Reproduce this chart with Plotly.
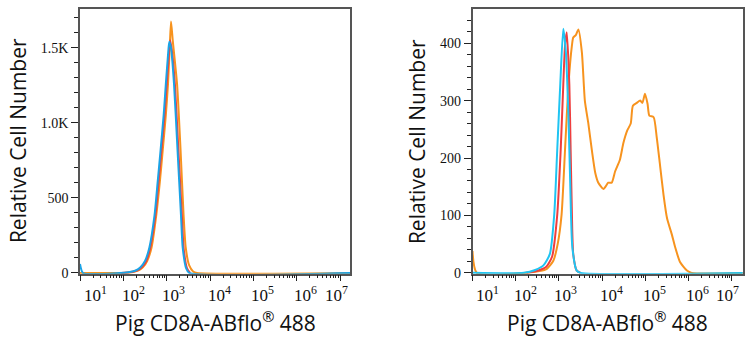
import plotly.graph_objects as go

# ---- Left panel: log10(fluorescence) vs cell count ----
left_blue_x = [1.00, 1.07, 1.92, 2.11, 2.27, 2.39, 2.50, 2.60, 2.72, 2.79, 2.86, 2.93, 2.98, 3.03, 3.06, 3.10, 3.17, 3.25, 3.33, 3.37, 3.45, 3.52, 7.30]
left_blue_y = [60, 0, 0, 5, 15, 37, 80, 168, 385, 600, 821, 1050, 1257, 1450, 1540, 1500, 1257, 821, 385, 168, 30, 0, 0]

left_red_x = [1.95, 2.14, 2.30, 2.42, 2.53, 2.62, 2.74, 2.81, 2.88, 2.95, 3.00, 3.05, 3.08, 3.12, 3.19, 3.27, 3.35, 3.39, 3.47, 3.54]
left_red_y = [0, 5, 15, 37, 80, 168, 385, 600, 821, 1050, 1257, 1450, 1550, 1480, 1257, 821, 385, 168, 30, 0]

left_orange_x = [1.00, 1.99, 2.20, 2.34, 2.45, 2.55, 2.65, 2.76, 2.84, 2.91, 2.98, 3.03, 3.07, 3.10, 3.14, 3.24, 3.32, 3.39, 3.44, 3.52, 3.61, 3.70, 7.30]
left_orange_y = [0, 0, 5, 15, 37, 80, 168, 385, 600, 821, 1050, 1257, 1500, 1675, 1550, 1257, 821, 385, 168, 50, 10, 0, 0]

# ---- Right panel ----
right_blue_x = [1.00, 2.19, 2.45, 2.64, 2.79, 2.89, 2.96, 3.03, 3.10, 3.16, 3.22, 3.26, 3.31, 3.41, 3.50, 7.30]
right_blue_y = [0, 0, 5, 13, 33, 101, 214, 328, 425, 384, 271, 157, 44, 4, 0, 0]

right_red_x = [2.25, 2.52, 2.70, 2.84, 2.96, 3.04, 3.10, 3.14, 3.18, 3.24, 3.27, 3.30, 3.33, 3.41, 3.50]
right_red_y = [0, 4, 10, 28, 101, 214, 328, 396, 419, 328, 214, 101, 33, 4, 0]

right_orange_x = [1.00, 1.10, 2.26, 2.55, 2.72, 2.87, 2.97, 3.06, 3.14, 3.22, 3.30, 3.33, 3.39, 3.45, 3.53, 3.60,
                  3.68, 3.76, 3.84, 3.91, 4.03, 4.14, 4.22, 4.30, 4.41, 4.49, 4.58, 4.66, 4.71, 4.80, 4.88,
                  4.93, 4.99, 5.05, 5.09, 5.19, 5.26, 5.34, 5.42, 5.50, 5.61, 5.69, 5.80, 5.96, 6.07, 7.30]
right_orange_y = [38, 0, 0, 3, 7, 21, 50, 101, 214, 328, 396, 410, 414, 424, 384, 299,
                  260, 214, 174, 157, 146, 157, 157, 177, 197, 226, 248, 260, 291, 296, 300,
                  296, 312, 294, 274, 271, 237, 186, 135, 95, 67, 44, 19, 4, 0, 0]

ORANGE = "#f7931e"
RED = "#ef3e3e"
BLUE_L = "#1ba3e6"
BLUE_R = "#1fc4f2"

decades = [1, 2, 3, 4, 5, 6, 7]
decade_label_shift = [15, 10, 7, 9, 9, 9, -4]
minor_vals = [k * 10 ** d for d in range(1, 8) for k in range(2, 10)]

left_yticks = [0, 500, 1000, 1500]
left_yticktext = ["0", "500", "1.0K", "1.5K"]
right_yticks = [0, 100, 200, 300, 400]
right_yticktext = ["0", "100", "200", "300", "400"]

x_title = "Pig CD8A-ABflo<sup>®</sup> 488"
y_title = "Relative Cell Number"

SERIF = "'Liberation Serif', 'DejaVu Serif', serif"
SANS = "'Open Sans', 'Noto Sans', sans-serif"

fig = go.Figure()


def add_curve(xs, ys, color, xa, ya):
    fig.add_trace(go.Scatter(
        x=[10 ** v for v in xs], y=ys, mode="lines",
        line=dict(color=color, width=2, shape="spline", smoothing=0.6),
        xaxis=xa, yaxis=ya, showlegend=False, hoverinfo="skip"))


add_curve(left_orange_x, left_orange_y, ORANGE, "x", "y")
add_curve(left_red_x, left_red_y, RED, "x", "y")
add_curve(left_blue_x, left_blue_y, BLUE_L, "x", "y")

add_curve(right_orange_x, right_orange_y, ORANGE, "x2", "y2")
add_curve(right_red_x, right_red_y, RED, "x2", "y2")
add_curve(right_blue_x, right_blue_y, BLUE_R, "x2", "y2")

W, H = 754, 350
y_dom = [1 - 279.3 / H, 1 - 9.5 / H]

xaxis_common = dict(
    type="log", showgrid=False, zeroline=False,
    showline=True, linecolor="#555555", linewidth=1.5, mirror=True,
    ticks="outside", ticklen=6, tickwidth=1.3, tickcolor="#222222",
    tickmode="array", tickvals=[10 ** d for d in decades], showticklabels=False,
    minor=dict(ticks="outside", ticklen=3, tickwidth=1, tickcolor="#222222",
               tickmode="array", tickvals=minor_vals, showgrid=False),
)
yaxis_common = dict(
    showgrid=False, zeroline=False,
    showline=True, linecolor="#555555", linewidth=1.5, mirror=True,
    ticks="outside", ticklen=7, tickwidth=1.3, tickcolor="#222222",
    tickfont=dict(family=SERIF, size=14, color="#111111"),
    tickmode="array", domain=y_dom,
)

fig.update_layout(
    width=W, height=H, margin=dict(l=0, r=0, t=0, b=0),
    paper_bgcolor="white", plot_bgcolor="white",
    xaxis=dict(xaxis_common, domain=[80 / W, 350 / W], range=[1.0, 7.23], anchor="y"),
    yaxis=dict(yaxis_common, range=[-5, 1757], tickvals=left_yticks, ticktext=left_yticktext,
               minor=dict(ticks="outside", ticklen=4, tickwidth=1, tickcolor="#222222", dtick=100),
               anchor="x"),
    xaxis2=dict(xaxis_common, domain=[472.5 / W, 742.7 / W], range=[1.0, 7.25], anchor="y2"),
    yaxis2=dict(yaxis_common, range=[-1.5, 459], tickvals=right_yticks, ticktext=right_yticktext,
                minor=dict(ticks="outside", ticklen=4, tickwidth=1, tickcolor="#222222", dtick=20),
                anchor="x2"),
)

annotations = []
for xr in ["x", "x2"]:
    for d, sh in zip(decades, decade_label_shift):
        annotations.append(dict(
            x=d, xref=xr, y=1 - 300 / H, yref="paper", xshift=sh,
            text="10<sup>%d</sup>" % d, showarrow=False, xanchor="center", yanchor="middle",
            font=dict(family=SERIF, size=17, color="#111111")))

for cx, ty in [(215 / W, 18 / W), (607.6 / W, 417 / W)]:
    annotations.append(dict(
        x=cx, xref="paper", y=1 - 328 / H, yref="paper", text=x_title, showarrow=False,
        xanchor="center", yanchor="middle",
        font=dict(family=SANS, size=21, color="#111111")))
    annotations.append(dict(
        x=ty, xref="paper", y=1 - 144 / H, yref="paper", text=y_title, showarrow=False,
        textangle=-90, xanchor="center", yanchor="middle",
        font=dict(family=SANS, size=21, color="#111111")))

fig.update_layout(annotations=annotations)
fig.write_html("out.html")
